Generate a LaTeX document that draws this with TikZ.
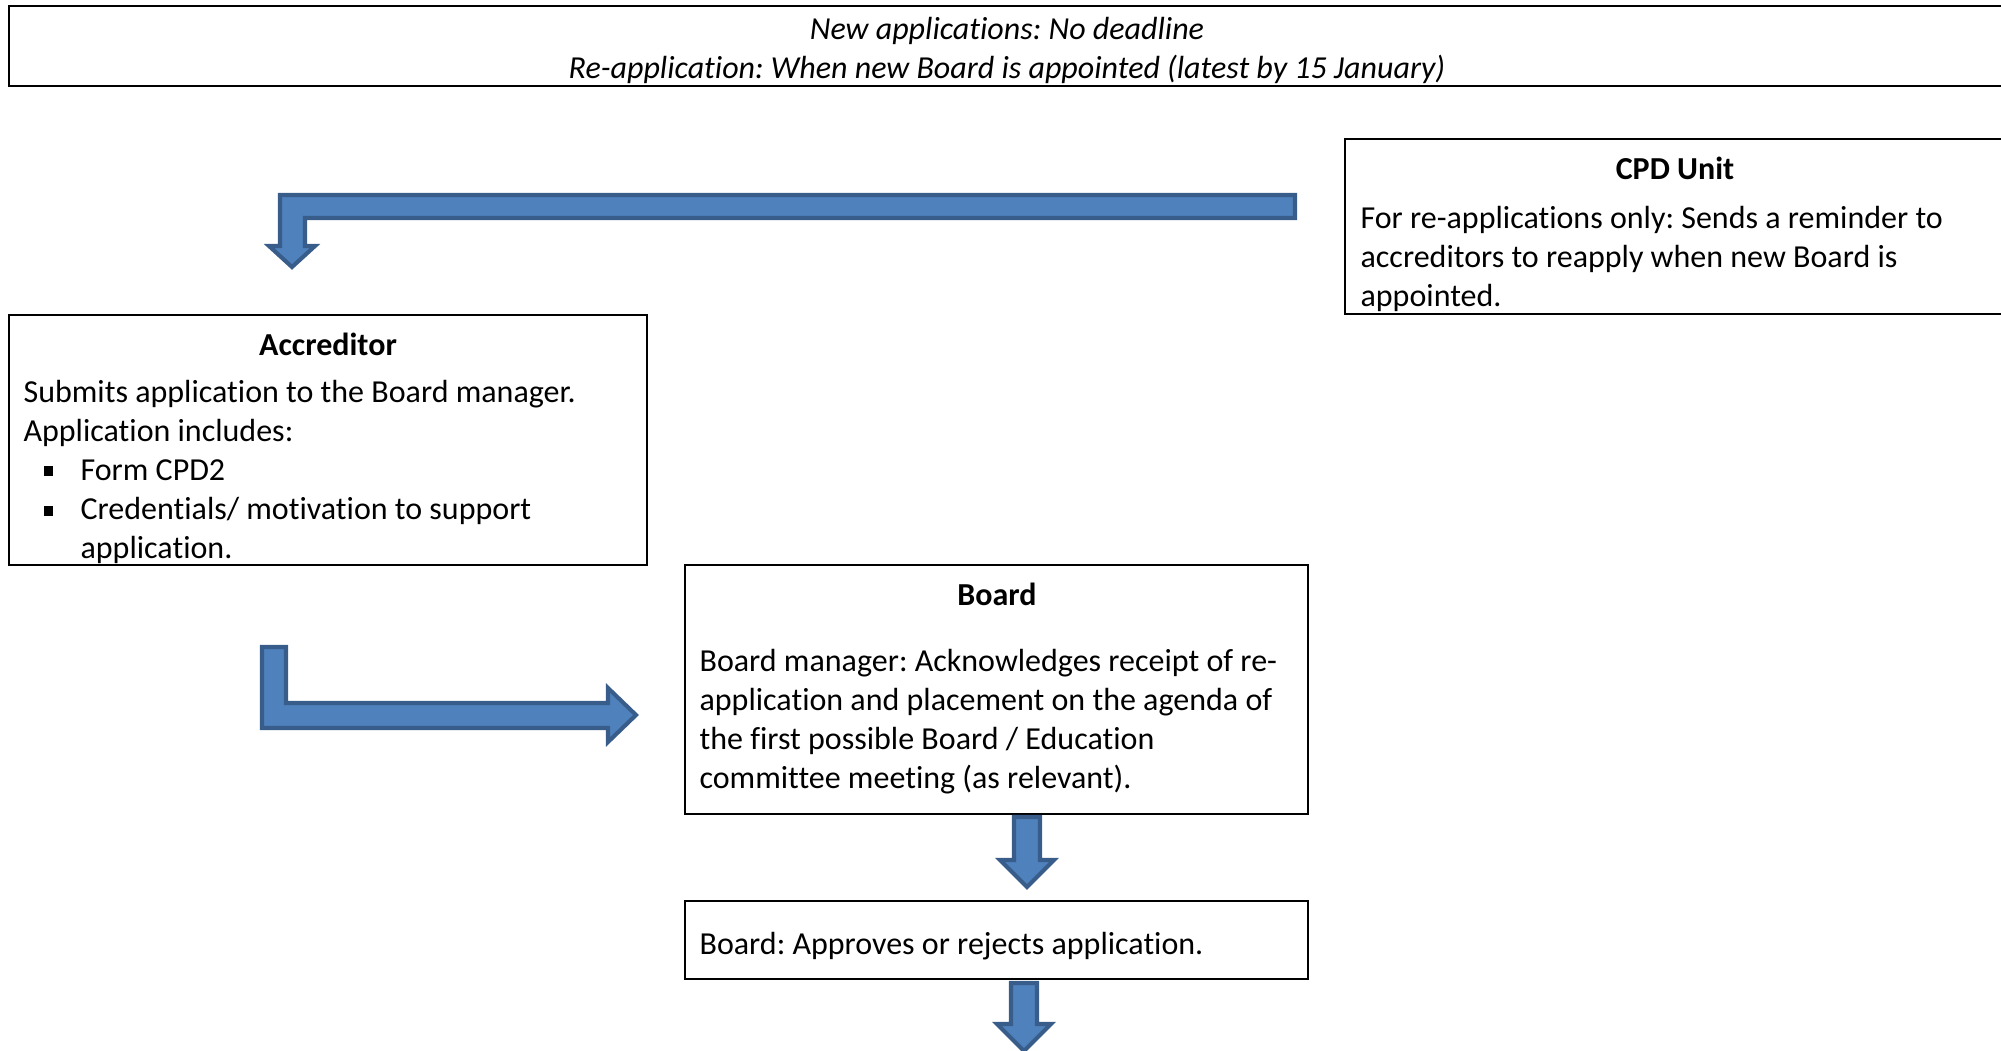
\documentclass[tikz,border=0pt]{standalone}
\usepackage{fontspec}
\setmainfont{Carlito}[Ligatures={NoCommon,NoContextual},Contextuals=NoAlternate,RawFeature={-liga;-clig;-calt;-dlig}]
\frenchspacing
\usetikzlibrary{fit}
\definecolor{arrowfill}{RGB}{79,129,189}
\definecolor{arrowline}{RGB}{56,93,138}
\tikzset{every node/.style={inner sep=0pt,font=\fontsize{11}{13.4}\selectfont}}
\tikzset{boxframe/.style = {draw,line width=0.75pt,inner sep=0pt}}
\tikzset{ttl/.style = {anchor=base,font=\fontsize{11}{13.4}\selectfont\bfseries}}
\tikzset{txt/.style = {anchor=base west,align=left}}
\tikzset{bul/.style = {fill,minimum size=3.2pt}}
\tikzset{barrow/.style = {fill=arrowfill,draw=arrowline,line width=1.4pt}}

\begin{document}
\begin{tikzpicture}[x=0.3436pt,y=-0.3436pt]
      \useasboundingbox (0,0) rectangle (2001,1050);
      \clip (0,0) rectangle (2001,1050);

      % boxes
      \node[boxframe,fit={(9,6) (2010,86)}] (top) {};
      \node[boxframe,fit={(1345,139) (2010,314)}] (cpd) {};
      \node[boxframe,fit={(9,315) (647,565)}] (acc) {};
      \node[boxframe,fit={(685,565) (1308,814)}] (brd) {};
      \node[boxframe,fit={(685,901) (1308,979)}] (dec) {};

      % texts (multi-line nodes sit on their last baseline)
      \node[anchor=base,align=center,font=\fontsize{11}{13.4}\selectfont\itshape] (note) at (1007,78)
        {New applications: No deadline\\Re-application: When new Board is appointed (latest by 15 January)};

      \node[ttl] (cpdt) at (1675,179) {CPD Unit};
      \node[txt] (cpdb) at (1360,306) {For re-applications only: Sends a reminder to\\accreditors to reapply when new Board is\\appointed.};

      \node[ttl] (acct) at (328,355) {Accreditor};
      \node[txt] (accb) at (23,441) {Submits application to the Board manager.\\Application includes:};
      \node[bul] (b1) at (48.5,471) {};
      \node[bul] (b2) at (48.5,511) {};
      \node[txt] (i1) at (80,480) {Form CPD2};
      \node[txt] (i2) at (80,558) {Credentials/ motivation to support\\application.};

      \node[ttl] (brdt) at (997,605) {Board};
      \node[txt] (brdb) at (699,788) {Board manager: Acknowledges receipt of re-\\application and placement on the agenda of\\the first possible Board / Education\\committee meeting (as relevant).};

      \node[txt] (decb) at (699,954) {Board: Approves or rejects application.};

      % block arrows
      \draw[barrow] (1295,195) -- (280,195) -- (280,246) -- (269,246) -- (292,267)
        -- (315,246) -- (305,246) -- (305,218) -- (1295,218) -- cycle;
      \draw[barrow] (262,647) -- (286,647) -- (286,703) -- (608,703) -- (608,688)
        -- (636,715) -- (608,742) -- (608,728) -- (262,728) -- cycle;

 \foreach \cx/\ty/\by in {1027/817/860,1024/983/1024}
   \draw[barrow] (\cx-13,\ty) -- (\cx+13,\ty) -- (\cx+13,\by) -- (\cx+27,\by)
     -- (\cx,\by+27) -- (\cx-27,\by) -- (\cx-13,\by) -- cycle;

\end{tikzpicture}
\end{document}
